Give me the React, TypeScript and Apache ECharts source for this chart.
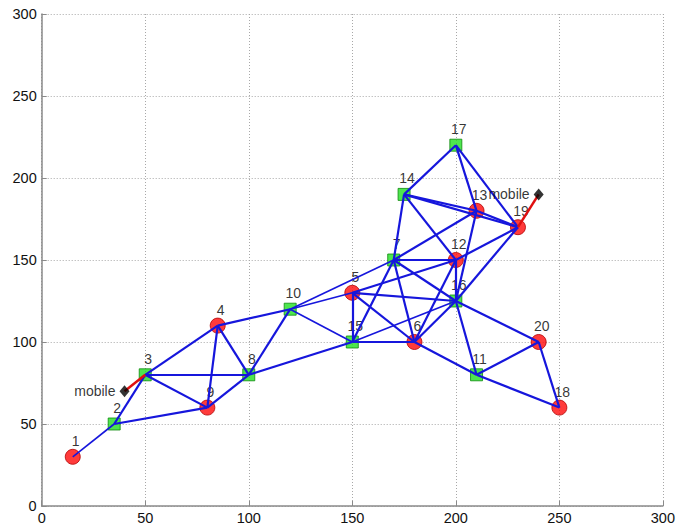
import React, { useEffect, useRef } from "react";
import * as echarts from "echarts";

// Node data
const nodeIds = [1, 2, 3, 4, 5, 6, 7, 8, 9, 10, 11, 12, 13, 14, 15, 16, 17, 18, 19, 20];
const nodeX = [15, 35, 50, 85, 150, 180, 170, 100, 80, 120, 210, 200, 210, 175, 150, 200, 200, 250, 230, 240];
const nodeY = [30, 50, 80, 110, 130, 100, 150, 80, 60, 120, 80, 150, 180, 190, 100, 125, 220, 60, 170, 100];
// r = red circle (anchor), g = green square
const nodeKind = ["r", "g", "g", "r", "r", "r", "g", "g", "r", "g", "g", "r", "r", "g", "g", "g", "g", "r", "r", "r"];

// Mobile nodes and their attached node
const mobileX = [40, 240];
const mobileY = [70, 190];
const mobileLink = [3, 19];

// Links between nodes
const edges: [number, number][] = [
  [1, 2], [2, 3], [2, 9], [3, 4], [3, 8], [3, 9], [4, 9], [4, 8], [4, 10], [8, 9], [8, 10], [8, 15],
  [10, 7], [10, 5], [10, 15], [5, 15], [5, 6], [5, 12], [5, 16],
  [7, 14], [7, 13], [7, 12], [7, 16], [7, 6], [7, 15],
  [15, 6], [15, 16], [6, 16], [6, 12], [6, 11],
  [12, 14], [12, 19], [12, 16], [13, 14], [13, 19], [13, 16], [13, 17],
  [14, 19], [14, 17], [17, 19], [16, 19], [16, 11], [16, 20],
  [11, 20], [11, 18], [20, 18],
];
const thinEdges: [number, number][] = [[1, 2], [10, 5], [10, 15], [15, 16], [10, 7]];

const xTicks = [0, 50, 100, 150, 200, 250, 300];
const yTicks = [0, 50, 100, 150, 200, 250, 300];

const FONT = "'Liberation Sans', Arial, sans-serif";

export default function App() {
  const ref = useRef<HTMLDivElement>(null);
  useEffect(() => {
    if (!ref.current) return;
    const chart = echarts.init(ref.current, undefined, { renderer: "svg" });
    const pos = (id: number) => {
      const i = nodeIds.indexOf(id);
      return [nodeX[i], nodeY[i]];
    };
    const isThin = (a: number, b: number) =>
      thinEdges.some(([p, q]) => (p === a && q === b) || (p === b && q === a));

    const labelCfg = {
      show: true,
      position: "inside",
      offset: [3, -16],
      color: "#000",
      fontSize: 14,
      fontFamily: FONT,
      formatter: (p: any) => String(p.data[2]),
    };

    const redData = nodeIds
      .map((id, i) => [nodeX[i], nodeY[i], id, nodeKind[i]])
      .filter((d) => d[3] === "r");
    const greenData = nodeIds
      .map((id, i) => [nodeX[i], nodeY[i], id, nodeKind[i]])
      .filter((d) => d[3] === "g");

    const option: any = {
      animation: false,
      grid: { left: 41.7, right: 12.3, top: 14, bottom: 23, containLabel: false },
      xAxis: {
        type: "value",
        min: 0,
        max: 300,
        interval: 50,
        axisLine: { show: true, onZero: false, lineStyle: { color: "#8a8a8a", width: 1.5 } },
        axisTick: { show: true, inside: true, length: 5, lineStyle: { color: "#8a8a8a" } },
        axisLabel: {
          color: "#111",
          fontSize: 14.5,
          fontFamily: FONT,
          margin: 4,
          formatter: (v: number) => (xTicks.includes(v) ? String(v) : ""),
        },
        splitLine: { show: true, lineStyle: { type: [1, 2], color: "#a8a8a8", width: 1 } },
      },
      yAxis: {
        type: "value",
        min: 0,
        max: 300,
        interval: 50,
        axisLine: { show: true, onZero: false, lineStyle: { color: "#8a8a8a", width: 1.5 } },
        axisTick: { show: true, inside: true, length: 5, lineStyle: { color: "#8a8a8a" } },
        axisLabel: {
          color: "#111",
          fontSize: 14.5,
          fontFamily: FONT,
          margin: 5,
          formatter: (v: number) => (yTicks.includes(v) ? String(v) : ""),
        },
        splitLine: { show: true, lineStyle: { type: [1, 2], color: "#a8a8a8", width: 1 } },
      },
      series: [
        {
          type: "scatter",
          z: 2,
          symbol: "circle",
          symbolSize: 15,
          itemStyle: { color: "#ff0a0a", borderColor: "#b00000", borderWidth: 1 },
          label: labelCfg,
          data: redData,
        },
        {
          type: "scatter",
          z: 2,
          symbol: "rect",
          symbolSize: 12,
          itemStyle: { color: "#22e022", borderColor: "#0e8a0e", borderWidth: 1 },
          label: labelCfg,
          data: greenData,
        },
        {
          type: "lines",
          coordinateSystem: "cartesian2d",
          z: 3,
          silent: true,
          data: edges.map(([a, b]) => ({
            coords: [pos(a), pos(b)],
            lineStyle: { width: isThin(a, b) ? 1.6 : 2.2, color: "#1616dc", opacity: 1 },
          })),
        },
        {
          type: "lines",
          coordinateSystem: "cartesian2d",
          z: 3,
          silent: true,
          data: mobileX.map((x, i) => ({
            coords: [[x, mobileY[i]], pos(mobileLink[i])],
            lineStyle: { width: 2.5, color: "#e01010", opacity: 1 },
          })),
        },
        {
          type: "scatter",
          z: 4,
          symbol: "diamond",
          symbolSize: [10, 12],
          itemStyle: { color: "#000" },
          label: {
            show: true,
            position: "left",
            distance: 4,
            color: "#000",
            fontSize: 14,
            fontFamily: FONT,
            formatter: () => "mobile",
          },
          data: mobileX.map((x, i) => [x, mobileY[i]]),
        },
      ],
    };
    chart.setOption(option);
    return () => chart.dispose();
  }, []);
  return (
    <div
      ref={ref}
      style={{ position: "fixed", left: 0, top: 0, width: 678, height: 529, background: "#fff" }}
    />
  );
}
